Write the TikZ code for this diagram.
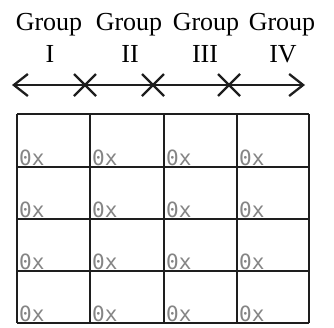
\documentclass[tikz,border=0pt]{standalone}
\usepackage{fontspec}
\setmainfont{Liberation Serif}
\newfontfamily\cellmono{DejaVu Sans Mono}
\usetikzlibrary{arrows.meta}
\definecolor{gridc}{HTML}{1E1E1E}
\definecolor{hexc}{HTML}{858585}
\tikzset{
  grouplab/.style={anchor=base,inner sep=0pt,font=\fontsize{26}{28}\selectfont},
  hexlab/.style={anchor=base west,inner sep=0pt,text=hexc,font=\cellmono\fontsize{21}{22}\selectfont},
  gridline/.style={draw=gridc,line width=2.6pt},
  axis/.style={draw=gridc,line width=2.3pt},
}
\begin{document}
\begin{tikzpicture}[x=1pt,y=-1pt]
\useasboundingbox (0,0) rectangle (334,327);
% group labels
\node[grouplab] (g1) at (49,30) {Group};
\node[grouplab] (g2) at (129,30) {Group};
\node[grouplab] (g3) at (206,30) {Group};
\node[grouplab] (g4) at (282,30) {Group};
\node[grouplab] (n1) at (50,62) {I};
\node[grouplab] (n2) at (130,62) {II};
\node[grouplab] (n3) at (205,62) {III};
\node[grouplab] (n4) at (283,62) {IV};
% axis
\coordinate (aL) at (12,85);
\coordinate (aR) at (305,85);
\draw[axis,{Straight Barb[length=14pt,width=22pt,line width=2.3pt]}-{Straight Barb[length=14pt,width=22pt,line width=2.3pt]}] (aL) -- (aR);
\foreach \xx in {85,153,229}{
  \draw[axis] (\xx-11,74) -- (\xx+11,96);
  \draw[axis] (\xx-11,96) -- (\xx+11,74);
}
% grid
\foreach \xx in {17,90,164,237,309}{
  \draw[gridline] (\xx,114) -- (\xx,323);
}
\foreach \yy in {114,167,219,271,323}{
  \draw[gridline] (17,\yy) -- (309,\yy);
}
\foreach \xx [count=\i] in {17,90,164,237}{
  \foreach \yy [count=\j] in {167,219,271,323}{
    \node[hexlab] (h\i\j) at (\xx+2,\yy-1.5) {0x};
  }
}
\end{tikzpicture}
\end{document}
